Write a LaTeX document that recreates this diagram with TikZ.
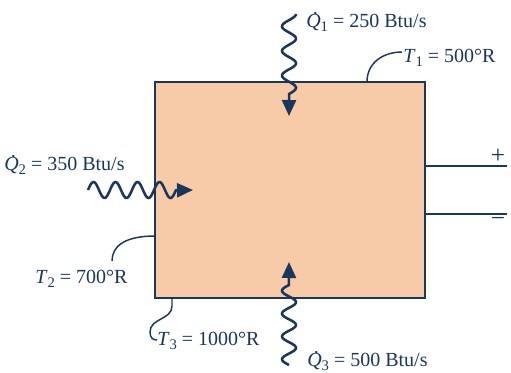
\documentclass[tikz,border=0pt]{standalone}
\usepackage{fontspec}
\setmainfont{Liberation Serif}
\usetikzlibrary{arrows.meta}
\definecolor{navy}{HTML}{1B355C}
\definecolor{peach}{HTML}{F7CBA8}
\newcommand\lowsub[1]{\raisebox{-3.5pt}{\fontsize{11}{11}\selectfont #1}}
\newcommand\qdot{{\itshape\rlap{\hspace{0.36em}\raisebox{0.62em}{.}}Q}}
\begin{document}
\begin{tikzpicture}[x=0.75pt,y=-0.75pt,
  lbl/.style={text=navy, font=\fontsize{15}{18}\selectfont, inner sep=0pt, anchor=base west},
  sign/.style={text=navy, font=\fontsize{19}{19}\selectfont, inner sep=0pt, anchor=center},
  wave/.style={navy, line width=1.9pt, -{Triangle[length=12pt,width=10.5pt]}},
  lead/.style={navy, line width=1.1pt},
  sysbox/.style={draw=navy, fill=peach, line width=1.1pt, inner sep=0pt, outer sep=0pt,
                 minimum width=202.5pt, minimum height=162pt}]
\useasboundingbox (0,0) rectangle (511,372);
\node[sysbox] (sys) at (290,190) {};
% electrical leads
\coordinate (pend) at (507,166);
\coordinate (mend) at (507,214);
\draw[lead] (sys.east |- pend) -- (pend);
\draw[lead] (sys.east |- mend) -- (mend);
\node[sign] (plus) at (498,156) {+};
\node[sign] (minus) at (498,222) {\char"2212};
% labels
\node[lbl] (q1) at (306,27) {\qdot\lowsub{1} = 250 Btu/s};
\node[lbl] (t1) at (403,62) {\textit{T}\lowsub{1} = 500°R};
\node[lbl] (q2) at (4,170) {\qdot\lowsub{2} = 350 Btu/s};
\node[lbl] (t2) at (35,283) {\textit{T}\lowsub{2} = 700°R};
\node[lbl] (t3) at (157,345) {\textit{T}\lowsub{3} = 1000°R};
\node[lbl] (q3) at (307,366) {\qdot\lowsub{3} = 500 Btu/s};
% heat transfer waves
\coordinate (q1tip) at (289,116);
\coordinate (q3tip) at (289,262);
\coordinate (q2tip) at (193,190);
\draw[wave] plot[domain=0:1,samples=90,smooth] ({289+7*sin(\x*3.25*360+90)},{14+\x*80}) -- (q1tip);
\draw[wave] plot[domain=0:1,samples=90,smooth] ({289-7*sin(\x*3.5*360)},{365-\x*80}) -- (q3tip);
\draw[wave] plot[domain=0:1,samples=100,smooth] ({88+\x*88},{190-8*sin(\x*4*360)}) -- (q2tip);
% temperature leaders
\coordinate (a1) at (367,82);
\coordinate (b1) at (402,52);
\draw[lead] (a1) .. controls (367,62) and (384,52) .. (b1);
\coordinate (a2) at (155,236);
\coordinate (b2) at (112,261);
\draw[lead] (a2) .. controls (125,236) and (112,246) .. (b2);
\coordinate (a3) at (172,298);
\coordinate (b3) at (157,340);
\draw[lead] (a3) -- (172,306) .. controls (172,320) and (150,318) .. (150,332) .. controls (150,338) and (153,340) .. (b3);
\end{tikzpicture}
\end{document}
